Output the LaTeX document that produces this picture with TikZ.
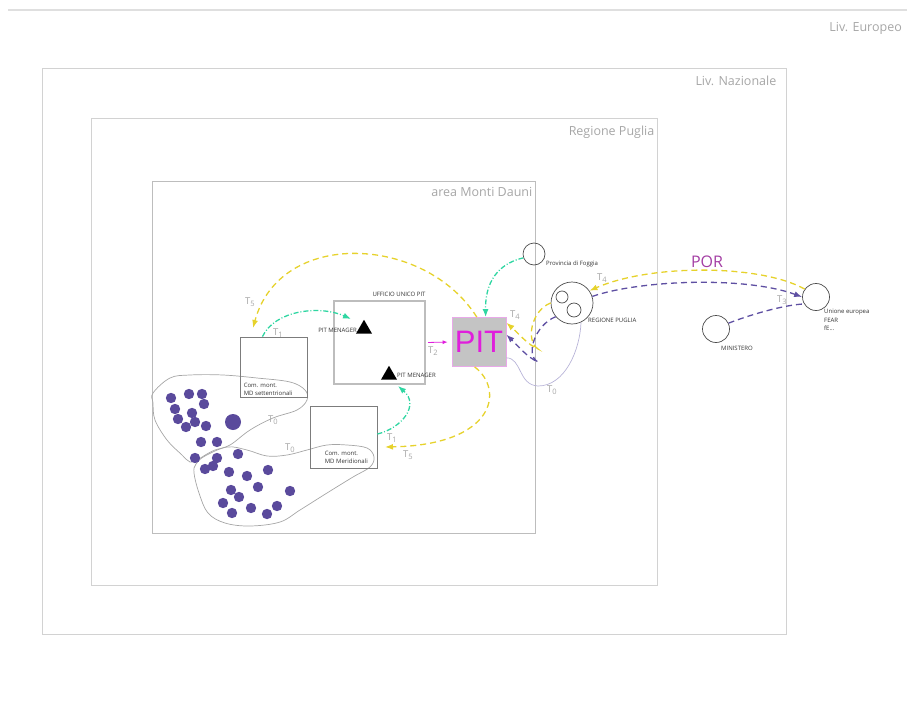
\documentclass[tikz,border=0pt]{standalone}
\usepackage{fontspec}
\setmainfont{Open Sans}
\newfontfamily\pitfont{Liberation Sans}
\usetikzlibrary{arrows.meta, shapes.geometric}
\definecolor{boxgray}{HTML}{D2D2D2}
\definecolor{mdgray}{HTML}{BDBDBD}
\definecolor{labgray}{HTML}{A6A6A6}
\definecolor{comgray}{HTML}{7C7C7C}
\definecolor{yel}{HTML}{E6D22C}
\definecolor{viol}{HTML}{5E4FA2}
\definecolor{tealc}{HTML}{2FD6A2}
\definecolor{pitmag}{HTML}{E01EDC}
\definecolor{pitedge}{HTML}{E9A9E9}
\definecolor{pitfill}{HTML}{C4C4C4}
\definecolor{porcol}{HTML}{A33DA3}
\definecolor{dotcol}{HTML}{5A4A9C}
\definecolor{lavline}{HTML}{B8B4D8}
\newcommand*{\Tl}[1]{T\raisebox{-0.35ex}{\fontsize{7.5}{8}\selectfont #1}}
\tikzset{
	livbox/.style={draw=boxgray, line width=1pt, inner sep=0pt},
	livtxt/.style={text=labgray, font=\fontsize{12.5}{14}\selectfont, anchor=north east, inner sep=0pt},
	combox/.style={draw=comgray, line width=0.8pt, inner sep=0pt},
	uffbox/.style={draw=boxgray!90!black, line width=2pt, inner sep=0pt},
	tinytxt/.style={text=black!80, font=\fontsize{6}{8.5}\selectfont, inner sep=0pt},
	ente/.style={circle, draw=black!70, line width=0.7pt, inner sep=0pt},
	tri/.style={regular polygon, regular polygon sides=3, fill=black, inner sep=0pt, minimum size=18.5},
	tlab/.style={text=labgray, font=\fontsize{9.5}{10}\selectfont, inner sep=0pt},
	flussoY/.style={yel, line width=1.3pt, dash pattern=on 6pt off 4pt},
	flussoV/.style={viol, line width=1.3pt, dash pattern=on 6pt off 4pt},
	flussoT/.style={tealc, line width=1.3pt, dash pattern=on 5pt off 2pt on 1pt off 2pt},
	punta/.style={-{Latex[length=8pt, width=6pt]}},
	blobline/.style={draw=black!35, line width=0.7pt}
}
\begin{document}
\begin{tikzpicture}[x=1pt, y=-1pt]
	\useasboundingbox(0, 0)rectangle(907, 706);
	\draw[boxgray!70, line width=2pt](8, 10)--(907, 10);
	\node[livtxt]at(902, 22){Liv. Europeo};
	\node[livbox, minimum width=744, minimum height=565](naz)at(414, 351.5){};
	\node[livtxt]at([xshift=-10pt, yshift=-7pt]naz.north east){Liv. Nazionale};
	\node[livbox, minimum width=566, minimum height=466](reg)at(374, 352){};
	\node[livtxt]at([xshift=-3pt, yshift=-7pt]reg.north east){Regione Puglia};
	\node[livbox, draw=mdgray, minimum width=383, minimum height=352](md)at(343.5, 357){};
	\node[livtxt]at([xshift=-3pt, yshift=-7pt]md.north east){area Monti Dauni};
	\draw[blobline]plot[smooth cycle, tension=0.6]coordinates{(153, 393)(170, 378)(190, 375)(223, 375)(257, 378)(290, 382)(305, 390)(307, 400)(297, 410)(273, 418)(250, 430)(230, 445)(215, 450)(207, 454)(197, 460)(190, 462)(182, 455)(167, 440)(155, 420)(153, 403)};
	\draw[blobline]plot[smooth cycle, tension=0.6]coordinates{(205, 456)(227, 447)(247, 450)(267, 456)(287, 455)(307, 450)(327, 445)(347, 445)(367, 448)(374, 457)(370, 467)(353, 477)(327, 493)(300, 510)(280, 522)(250, 526)(225, 523)(208, 513)(199, 493)(194, 473)(196, 464)};
	\foreach \p in {(171, 398), (189, 394), (202, 394), (204, 404), (175, 409), (192, 413), (178, 419), (195, 422), (186, 427), (206, 426), (201, 442), (217, 442), (195, 458), (217, 458), (205, 469), (213, 466), (238, 454), (229, 472), (247, 476), (268, 470), (258, 487), (231, 490), (239, 497), (290, 491), (223, 503), (251, 508), (277, 506), (232, 513), (267, 514)}
		\fill[dotcol]\p circle(5.2);
	\fill[dotcol](233, 422)circle(8);
	\node[combox, minimum width=67, minimum height=60](sett)at(273.5, 367){};
	\node[tinytxt, align=left, anchor=south west]at([xshift=4pt, yshift=1.5pt]sett.south west){Com. mont.\\MD settentrionali};
	\node[combox, minimum width=67, minimum height=62](meri)at(343.5, 437){};
	\node[tinytxt, align=left, anchor=south west]at([xshift=15pt, yshift=4.5pt]meri.south west){Com. mont.\\MD Meridionali};
	\node[uffbox, minimum width=91, minimum height=83](uff)at(379.5, 342.5){};
	\node[tinytxt, anchor=south]at([xshift=19.5pt, yshift=3.5pt]uff.north){UFFICIO UNICO PIT};
	\node[tri](pm1)at(364, 329){};
	\node[tinytxt, anchor=east]at(357, 330){PIT MENAGER};
	\node[tri](pm2)at(389, 375){};
	\node[tinytxt, anchor=west]at(397, 375){PIT MENAGER};
	\node[fill=pitfill, draw=pitedge, line width=0.8pt, text=pitmag, font=\pitfont\fontsize{31}{34}\selectfont, inner sep=0pt, minimum width=54, minimum height=49](pit)at(479, 342){PIT};
	\node[ente, minimum size=22](prov)at(534, 254){};
	\node[tinytxt, anchor=west]at(546, 264){Provincia di Foggia};
	\node[ente, minimum size=42](regp)at(572, 303){};
	\node[ente, minimum size=12](rp1)at(562, 297){};
	\node[ente, minimum size=14](rp2)at(574, 310){};
	\node[tinytxt, anchor=west]at(588, 320){REGIONE PUGLIA};
	\node[ente, minimum size=27](ue)at(816, 297){};
	\node[tinytxt, align=left, anchor=north west]at(824, 309){Unione europea\\FEAR\\fE...};
	\node[ente, minimum size=27](min)at(716, 329){};
	\node[tinytxt]at(737, 348){MINISTERO};
	\node[text=porcol, font=\fontsize{16}{18}\selectfont, inner sep=0pt]at(707, 262){POR};
	\coordinate(t5a)at(253, 328);
	\coordinate(t1a)at(351, 319);
	\coordinate(t1b)at(398, 386);
	\coordinate(t5b)at(385, 447);
	\coordinate(hookY)at(538, 349);
	\coordinate(hookV)at(538, 362);
	\coordinate(dipT)at(538, 386);
	\draw[flussoY, punta](ue.145) .. controls (760, 264) and (650, 264) .. (regp.35);
	\draw[flussoV, punta](regp.18) .. controls (640, 280) and (745, 276) .. (ue.west);
	\draw[flussoV](min.25) .. controls (755, 313) and (785, 305) .. (ue.210);
	\draw[flussoY, punta](regp.west) .. controls (532, 310) and (525, 340) .. (hookY) .. controls (528, 345) and (517, 332) .. (pit.35);
	\draw[flussoV, punta](regp.220) .. controls (535, 325) and (525, 355) .. (hookV) .. controls (528, 358) and (517, 345) .. (pit.15);
	\draw[lavline, line width=0.7pt](pit.-30) .. controls (522, 358) and (518, 385) .. (dipT) .. controls (565, 386) and (580, 350) .. (regp.-65);
	\draw[flussoT, punta](prov.200) .. controls (505, 262) and (485, 275) .. (pit.75);
	\draw[flussoY, punta](pit.95) .. controls (425, 235) and (280, 228) .. (t5a);
	\draw[flussoT, punta](sett.110) .. controls (275, 310) and (320, 305) .. (t1a);
	\draw[flussoT, punta](meri.5) .. controls (402, 428) and (420, 405) .. (t1b);
	\draw[flussoY, punta](pit.-100) .. controls (505, 390) and (495, 445) .. (t5b);
	\draw[pitmag, line width=0.8pt, -{Latex[length=5pt, width=4pt]}, shorten <=2pt, shorten >=4pt](uff.east)--(pit.west);
	\node[tlab]at(250, 302){\Tl{5}};
	\node[tlab]at(278, 333){\Tl{1}};
	\node[tlab]at(433, 351){\Tl{2}};
	\node[tlab]at(515, 315){\Tl{4}};
	\node[tlab]at(602, 278){\Tl{4}};
	\node[tlab]at(782, 300){\Tl{3}};
	\node[tlab]at(552, 390){\Tl{0}};
	\node[tlab]at(392, 438){\Tl{1}};
	\node[tlab]at(408, 455){\Tl{5}};
	\node[tlab]at(273, 420){\Tl{0}};
	\node[tlab]at(290, 448){\Tl{0}};
\end{tikzpicture}
\end{document}
